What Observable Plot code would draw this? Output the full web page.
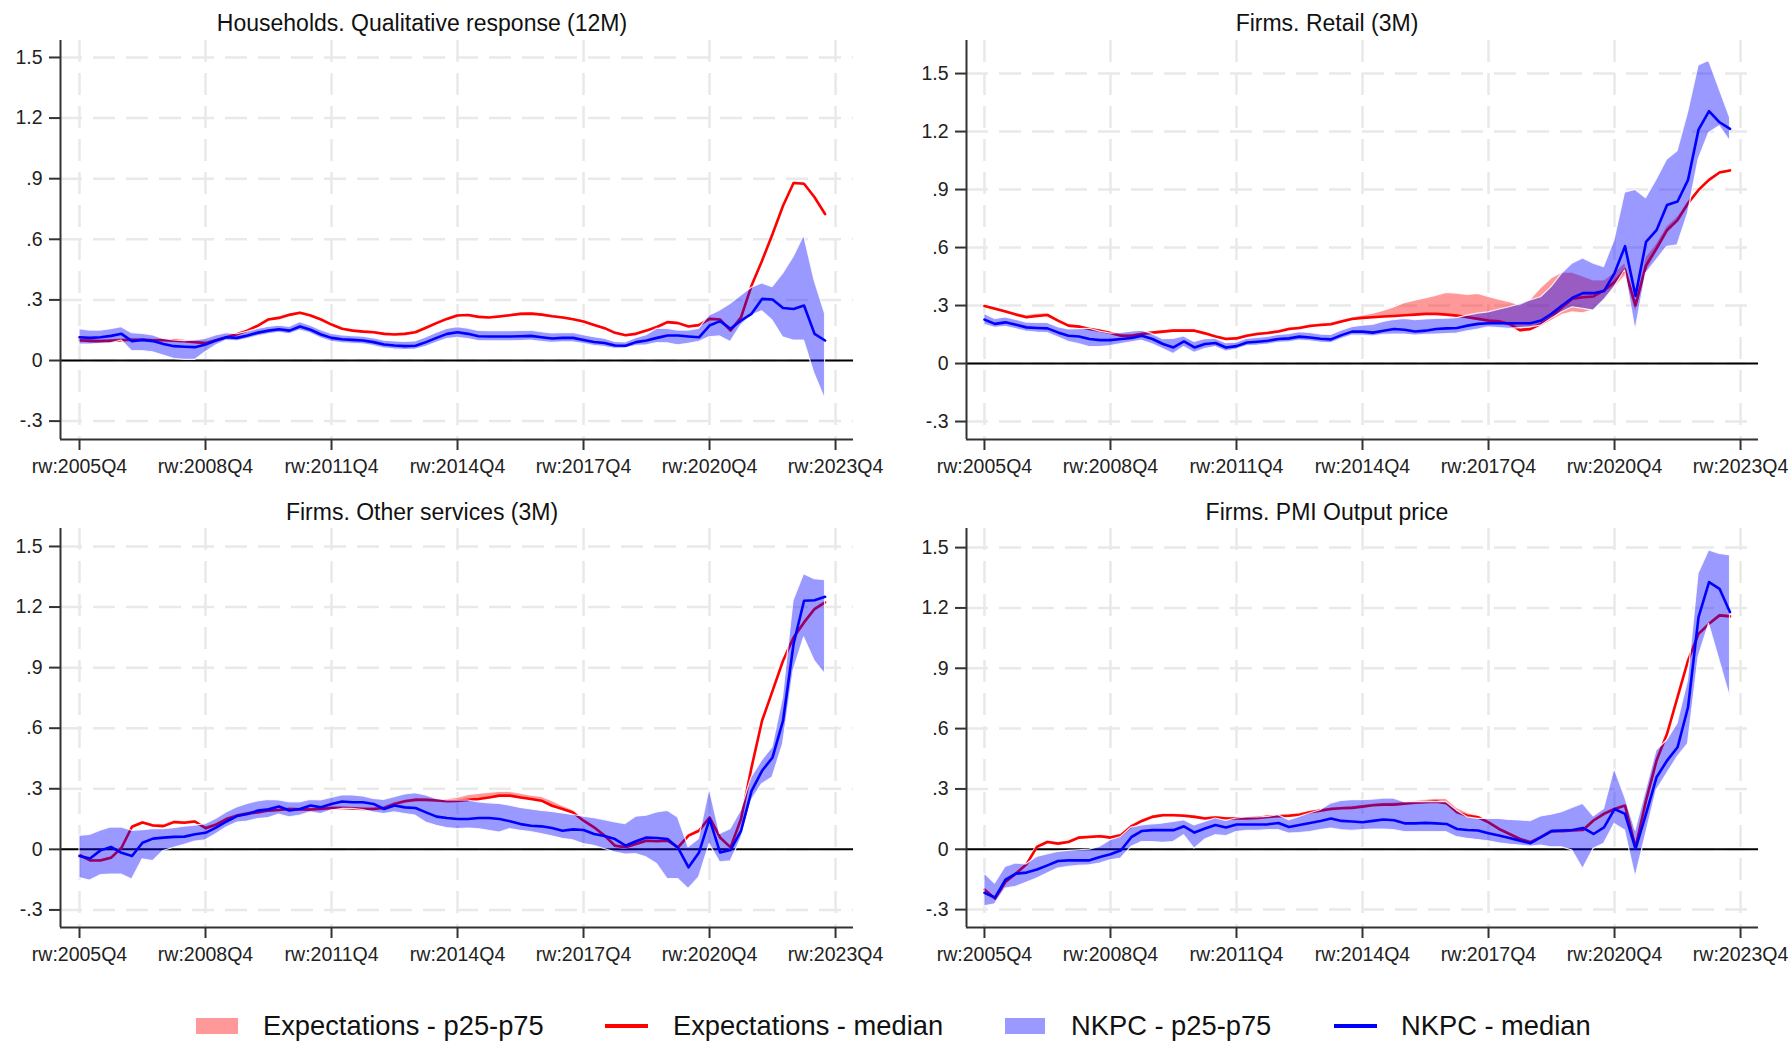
<!DOCTYPE html>
<html><head><meta charset="utf-8">
<script src="https://cdn.jsdelivr.net/npm/d3@7"></script>
<script src="https://cdn.jsdelivr.net/npm/@observablehq/plot@0.6"></script>
<style>
body{margin:0;background:#fff;font-family:"Liberation Sans",Arial,sans-serif;}
#root{position:relative;width:1789px;height:1041px;overflow:hidden;background:#fff;}
.panel{position:absolute;}
.title{position:absolute;font-size:23px;line-height:23px;color:#111;white-space:nowrap;transform:translateX(-50%);}
.leg{position:absolute;font-size:27.3px;line-height:27px;color:#111;white-space:nowrap;}
.sw{position:absolute;}
</style></head><body><div id="root"></div>
<script>
// ---------- tick values and labels ----------
const xTickIdx = [0, 12, 24, 36, 48, 60, 72];
const xTickLabels = ["rw:2005Q4","rw:2008Q4","rw:2011Q4","rw:2014Q4","rw:2017Q4","rw:2020Q4","rw:2023Q4"];
const yTickValues = [-0.3, 0, 0.3, 0.6, 0.9, 1.2, 1.5];
const yTickLabels = ["-.3", "0", ".3", ".6", ".9", "1.2", "1.5"];
const panelTitles = ["Households. Qualitative response (12M)", "Firms. Retail (3M)", "Firms. Other services (3M)", "Firms. PMI Output price"];
const legendLabels = ["Expectations - p25-p75", "Expectations - median", "NKPC - p25-p75", "NKPC - median"];

// ---------- Households (12M) ----------
const hhExpMed = [0.100,0.097,0.095,0.097,0.100,0.103,0.102,0.100,0.100,0.098,0.095,0.090,0.086,0.100,0.115,0.130,0.148,0.173,0.203,0.211,0.226,0.236,0.223,0.203,0.178,0.157,0.148,0.143,0.140,0.132,0.129,0.132,0.140,0.162,0.185,0.206,0.223,0.225,0.216,0.213,0.218,0.224,0.231,0.232,0.227,0.219,0.213,0.204,0.193,0.176,0.160,0.137,0.125,0.132,0.148,0.166,0.190,0.185,0.168,0.175,0.206,0.203,0.148,0.214,0.371,0.494,0.626,0.766,0.879,0.875,0.808,0.725];
const hhExpLo = [0.088,0.085,0.084,0.087,0.090,0.094,0.094,0.092,0.092,0.090,0.087,0.083,0.080,0.093,0.108,0.123,0.141,0.166,0.196,0.204,0.219,0.229,0.216,0.196,0.171,0.150,0.141,0.136,0.133,0.125,0.122,0.125,0.133,0.155,0.178,0.199,0.216,0.218,0.209,0.206,0.211,0.217,0.224,0.225,0.220,0.212,0.206,0.197,0.186,0.169,0.153,0.130,0.118,0.125,0.141,0.159,0.183,0.178,0.161,0.168,0.199,0.196,0.141,0.207,0.364,0.487,0.619,0.759,0.872,0.868,0.801,0.718];
const hhExpHi = [0.110,0.108,0.106,0.107,0.109,0.111,0.110,0.108,0.108,0.106,0.103,0.098,0.094,0.107,0.122,0.137,0.155,0.180,0.210,0.218,0.233,0.243,0.230,0.210,0.185,0.164,0.155,0.150,0.147,0.139,0.136,0.139,0.147,0.169,0.192,0.213,0.230,0.232,0.223,0.220,0.225,0.231,0.238,0.239,0.234,0.226,0.220,0.211,0.200,0.183,0.167,0.144,0.132,0.139,0.155,0.173,0.197,0.192,0.175,0.182,0.213,0.210,0.155,0.221,0.378,0.501,0.633,0.773,0.886,0.882,0.815,0.732];
const hhNkpcMed = [0.115,0.112,0.115,0.122,0.132,0.096,0.102,0.096,0.082,0.071,0.068,0.066,0.079,0.099,0.115,0.112,0.124,0.138,0.148,0.155,0.148,0.168,0.152,0.129,0.112,0.105,0.102,0.099,0.091,0.079,0.074,0.071,0.073,0.091,0.112,0.132,0.140,0.132,0.120,0.119,0.119,0.119,0.120,0.122,0.115,0.109,0.112,0.112,0.102,0.092,0.087,0.074,0.073,0.091,0.099,0.112,0.124,0.124,0.119,0.115,0.173,0.195,0.157,0.198,0.231,0.305,0.302,0.260,0.255,0.272,0.132,0.099];
const hhNkpcLo = [0.079,0.079,0.082,0.085,0.099,0.046,0.046,0.041,0.025,0.008,0.003,0.003,0.041,0.074,0.099,0.095,0.106,0.120,0.130,0.137,0.130,0.148,0.134,0.110,0.093,0.086,0.083,0.080,0.072,0.060,0.055,0.052,0.054,0.068,0.088,0.106,0.112,0.106,0.096,0.095,0.095,0.095,0.096,0.098,0.092,0.087,0.090,0.090,0.082,0.072,0.067,0.058,0.060,0.072,0.075,0.086,0.085,0.075,0.083,0.092,0.115,0.119,0.091,0.173,0.223,0.244,0.198,0.115,0.099,0.099,-0.066,-0.190];
const hhNkpcHi = [0.155,0.148,0.148,0.155,0.165,0.135,0.132,0.124,0.107,0.099,0.096,0.099,0.107,0.124,0.135,0.130,0.142,0.156,0.166,0.173,0.166,0.190,0.172,0.150,0.132,0.124,0.121,0.118,0.110,0.098,0.094,0.092,0.094,0.114,0.136,0.156,0.165,0.158,0.146,0.145,0.145,0.145,0.146,0.148,0.140,0.134,0.136,0.136,0.125,0.115,0.108,0.092,0.090,0.110,0.125,0.157,0.157,0.148,0.148,0.157,0.223,0.247,0.280,0.321,0.359,0.382,0.363,0.429,0.511,0.618,0.396,0.231];

// ---------- Retail (3M) ----------
const rtExpMed = [0.297,0.283,0.269,0.253,0.239,0.246,0.251,0.222,0.196,0.191,0.179,0.170,0.158,0.144,0.144,0.153,0.160,0.165,0.170,0.170,0.170,0.156,0.140,0.127,0.130,0.144,0.153,0.158,0.166,0.179,0.184,0.194,0.199,0.203,0.217,0.230,0.236,0.239,0.243,0.246,0.250,0.253,0.257,0.257,0.253,0.248,0.239,0.231,0.222,0.218,0.205,0.173,0.179,0.205,0.239,0.291,0.335,0.343,0.347,0.378,0.421,0.486,0.300,0.508,0.595,0.690,0.742,0.829,0.898,0.950,0.988,0.999];
const rtExpLo = [0.289,0.275,0.261,0.245,0.231,0.236,0.241,0.214,0.188,0.183,0.171,0.162,0.150,0.136,0.136,0.145,0.152,0.157,0.162,0.162,0.162,0.148,0.132,0.119,0.122,0.136,0.145,0.150,0.158,0.171,0.176,0.186,0.191,0.195,0.209,0.222,0.228,0.231,0.235,0.238,0.242,0.245,0.249,0.249,0.245,0.240,0.231,0.223,0.214,0.205,0.190,0.160,0.165,0.190,0.220,0.250,0.265,0.260,0.275,0.330,0.390,0.450,0.260,0.470,0.570,0.670,0.725,0.815,0.890,0.943,0.981,0.992];
const rtExpHi = [0.305,0.291,0.277,0.261,0.250,0.258,0.260,0.230,0.204,0.199,0.187,0.178,0.166,0.152,0.152,0.161,0.168,0.173,0.178,0.178,0.178,0.164,0.148,0.135,0.138,0.152,0.161,0.166,0.174,0.187,0.192,0.202,0.207,0.212,0.226,0.238,0.248,0.258,0.272,0.290,0.312,0.325,0.337,0.350,0.365,0.362,0.355,0.360,0.345,0.330,0.318,0.300,0.330,0.390,0.440,0.470,0.470,0.450,0.430,0.430,0.470,0.520,0.330,0.550,0.620,0.710,0.760,0.840,0.905,0.957,0.995,1.005];
const rtNkpcMed = [0.227,0.205,0.213,0.201,0.187,0.184,0.182,0.161,0.144,0.140,0.127,0.121,0.121,0.127,0.132,0.144,0.127,0.101,0.083,0.114,0.083,0.101,0.106,0.083,0.090,0.109,0.113,0.118,0.127,0.130,0.139,0.135,0.128,0.125,0.147,0.165,0.165,0.160,0.170,0.179,0.175,0.166,0.170,0.179,0.182,0.184,0.196,0.205,0.208,0.208,0.208,0.208,0.208,0.222,0.257,0.300,0.340,0.364,0.364,0.375,0.468,0.607,0.350,0.629,0.690,0.820,0.838,0.950,1.210,1.306,1.248,1.214];
const rtNkpcLo = [0.200,0.185,0.190,0.178,0.165,0.160,0.158,0.136,0.112,0.100,0.085,0.085,0.090,0.100,0.110,0.118,0.100,0.075,0.049,0.085,0.055,0.075,0.085,0.062,0.072,0.090,0.093,0.098,0.107,0.110,0.118,0.115,0.108,0.105,0.126,0.144,0.144,0.140,0.148,0.150,0.150,0.145,0.148,0.150,0.152,0.155,0.166,0.175,0.187,0.183,0.179,0.183,0.187,0.196,0.231,0.265,0.291,0.283,0.274,0.326,0.395,0.482,0.170,0.465,0.534,0.603,0.612,0.777,1.054,1.193,1.228,1.150];
const rtNkpcHi = [0.257,0.230,0.238,0.226,0.212,0.210,0.210,0.188,0.176,0.178,0.180,0.165,0.155,0.158,0.165,0.170,0.152,0.126,0.127,0.140,0.112,0.126,0.128,0.105,0.108,0.128,0.133,0.138,0.148,0.152,0.162,0.158,0.150,0.148,0.170,0.188,0.196,0.200,0.215,0.225,0.231,0.225,0.228,0.231,0.232,0.235,0.248,0.258,0.265,0.278,0.291,0.306,0.326,0.343,0.395,0.465,0.517,0.543,0.517,0.499,0.638,0.884,0.898,0.855,0.950,1.054,1.098,1.297,1.540,1.566,1.418,1.271];

// ---------- Other services (3M) ----------
const osExpMed = [-0.028,-0.055,-0.055,-0.042,0.008,0.112,0.133,0.118,0.115,0.135,0.132,0.138,0.105,0.122,0.150,0.167,0.178,0.183,0.192,0.195,0.200,0.198,0.197,0.200,0.205,0.205,0.203,0.200,0.200,0.205,0.225,0.238,0.245,0.245,0.242,0.238,0.240,0.245,0.249,0.257,0.266,0.266,0.257,0.249,0.241,0.216,0.200,0.183,0.142,0.109,0.068,0.018,0.010,0.026,0.043,0.040,0.043,0.010,0.068,0.092,0.158,0.059,0.010,0.150,0.406,0.637,0.785,0.934,1.049,1.124,1.190,1.223];
const osExpLo = [-0.036,-0.063,-0.063,-0.050,0.000,0.104,0.125,0.110,0.107,0.127,0.124,0.130,0.097,0.114,0.142,0.159,0.170,0.175,0.184,0.187,0.192,0.190,0.189,0.192,0.197,0.197,0.195,0.192,0.192,0.197,0.217,0.230,0.237,0.237,0.234,0.230,0.232,0.237,0.241,0.249,0.258,0.258,0.249,0.241,0.233,0.208,0.192,0.175,0.134,0.101,0.060,0.010,0.002,0.018,0.035,0.032,0.035,0.002,0.060,0.084,0.150,0.051,0.002,0.142,0.398,0.629,0.777,0.926,1.041,1.116,1.182,1.215];
const osExpHi = [-0.020,-0.047,-0.047,-0.034,0.016,0.120,0.141,0.126,0.123,0.143,0.140,0.146,0.113,0.130,0.158,0.175,0.186,0.191,0.200,0.203,0.208,0.206,0.205,0.208,0.213,0.213,0.211,0.208,0.208,0.213,0.233,0.246,0.253,0.253,0.250,0.248,0.255,0.268,0.275,0.280,0.285,0.285,0.276,0.266,0.260,0.240,0.215,0.195,0.150,0.117,0.076,0.026,0.018,0.034,0.051,0.048,0.051,0.018,0.076,0.100,0.166,0.067,0.018,0.158,0.414,0.645,0.793,0.942,1.057,1.132,1.198,1.231];
const osNkpcMed = [-0.033,-0.045,-0.005,0.012,-0.017,-0.033,0.033,0.053,0.058,0.062,0.063,0.075,0.082,0.108,0.138,0.165,0.175,0.192,0.198,0.212,0.192,0.200,0.217,0.208,0.225,0.237,0.233,0.233,0.225,0.200,0.217,0.208,0.205,0.183,0.162,0.155,0.150,0.150,0.155,0.155,0.150,0.139,0.125,0.117,0.114,0.106,0.092,0.099,0.096,0.076,0.066,0.051,0.018,0.040,0.059,0.056,0.051,0.007,-0.089,-0.015,0.150,-0.015,-0.003,0.092,0.290,0.389,0.455,0.637,1.017,1.231,1.234,1.251];
const osNkpcLo = [-0.142,-0.155,-0.128,-0.125,-0.125,-0.150,-0.050,-0.058,-0.008,0.008,0.022,0.038,0.045,0.075,0.108,0.132,0.138,0.150,0.155,0.172,0.158,0.167,0.183,0.175,0.192,0.200,0.200,0.195,0.183,0.175,0.183,0.175,0.167,0.133,0.117,0.105,0.100,0.103,0.100,0.092,0.083,0.100,0.092,0.085,0.075,0.065,0.052,0.045,0.026,0.018,0.002,-0.015,-0.026,-0.023,-0.040,-0.073,-0.147,-0.147,-0.196,-0.139,0.026,-0.064,-0.060,0.051,0.241,0.323,0.356,0.521,0.884,1.049,0.934,0.868];
const osNkpcHi = [0.067,0.072,0.092,0.108,0.108,0.092,0.095,0.100,0.100,0.105,0.112,0.117,0.125,0.150,0.183,0.208,0.225,0.238,0.245,0.242,0.233,0.233,0.245,0.242,0.255,0.267,0.267,0.262,0.250,0.245,0.258,0.272,0.278,0.267,0.250,0.242,0.242,0.242,0.233,0.228,0.225,0.216,0.205,0.198,0.191,0.185,0.178,0.170,0.162,0.155,0.145,0.134,0.125,0.162,0.167,0.183,0.191,0.158,0.010,0.051,0.300,0.076,0.100,0.191,0.356,0.439,0.505,0.752,1.231,1.363,1.338,1.333];

// ---------- PMI Output price ----------
const pmExpMed = [-0.200,-0.245,-0.163,-0.121,-0.075,0.012,0.036,0.028,0.036,0.058,0.061,0.065,0.058,0.070,0.114,0.141,0.161,0.169,0.169,0.167,0.161,0.153,0.158,0.153,0.153,0.153,0.156,0.161,0.164,0.167,0.172,0.184,0.192,0.200,0.204,0.206,0.212,0.219,0.222,0.222,0.226,0.231,0.234,0.237,0.229,0.184,0.167,0.159,0.134,0.101,0.076,0.051,0.035,0.060,0.090,0.090,0.093,0.096,0.143,0.176,0.200,0.217,0.010,0.242,0.441,0.574,0.756,0.939,1.071,1.121,1.163,1.158];
const pmExpLo = [-0.208,-0.253,-0.171,-0.129,-0.083,0.004,0.028,0.020,0.028,0.050,0.053,0.057,0.050,0.062,0.106,0.133,0.153,0.161,0.161,0.159,0.153,0.145,0.150,0.145,0.145,0.145,0.148,0.153,0.156,0.159,0.164,0.176,0.184,0.192,0.196,0.198,0.204,0.211,0.214,0.214,0.218,0.223,0.226,0.229,0.221,0.176,0.159,0.151,0.126,0.093,0.068,0.043,0.027,0.052,0.082,0.082,0.085,0.088,0.135,0.168,0.192,0.209,0.002,0.234,0.433,0.566,0.748,0.931,1.063,1.113,1.155,1.150];
const pmExpHi = [-0.192,-0.237,-0.155,-0.113,-0.067,0.020,0.044,0.036,0.044,0.066,0.069,0.073,0.066,0.078,0.122,0.149,0.169,0.177,0.177,0.175,0.169,0.161,0.166,0.161,0.161,0.161,0.164,0.169,0.172,0.175,0.180,0.192,0.200,0.208,0.212,0.214,0.220,0.227,0.230,0.232,0.236,0.241,0.245,0.252,0.250,0.205,0.180,0.167,0.142,0.109,0.084,0.059,0.043,0.068,0.098,0.098,0.101,0.104,0.151,0.184,0.208,0.225,0.018,0.250,0.449,0.582,0.764,0.947,1.079,1.129,1.171,1.166];
const pmNkpcMed = [-0.217,-0.240,-0.151,-0.121,-0.116,-0.101,-0.080,-0.058,-0.055,-0.055,-0.055,-0.038,-0.025,-0.005,0.061,0.091,0.095,0.095,0.095,0.114,0.083,0.103,0.121,0.108,0.123,0.123,0.123,0.124,0.131,0.111,0.121,0.131,0.141,0.153,0.141,0.138,0.134,0.141,0.148,0.144,0.129,0.129,0.131,0.129,0.126,0.101,0.096,0.093,0.080,0.068,0.056,0.043,0.030,0.060,0.090,0.093,0.096,0.106,0.076,0.109,0.200,0.176,0.002,0.176,0.358,0.441,0.507,0.706,1.154,1.328,1.295,1.179];
const pmNkpcLo = [-0.284,-0.274,-0.196,-0.187,-0.167,-0.146,-0.121,-0.096,-0.088,-0.083,-0.080,-0.071,-0.055,-0.046,0.012,0.036,0.036,0.032,0.036,0.070,0.003,0.048,0.070,0.065,0.086,0.091,0.091,0.095,0.095,0.078,0.081,0.086,0.095,0.103,0.095,0.091,0.095,0.098,0.098,0.095,0.085,0.085,0.085,0.085,0.085,0.060,0.052,0.046,0.040,0.030,0.023,0.018,0.013,0.018,0.010,0.010,-0.007,-0.098,0.002,0.027,0.126,0.093,-0.139,0.076,0.292,0.375,0.458,0.524,0.955,1.121,0.939,0.756];
const pmNkpcHi = [-0.121,-0.171,-0.088,-0.071,-0.075,-0.038,-0.025,-0.013,-0.008,-0.005,-0.002,0.012,0.045,0.061,0.108,0.119,0.124,0.128,0.136,0.144,0.119,0.136,0.153,0.141,0.153,0.158,0.158,0.161,0.169,0.144,0.161,0.178,0.194,0.227,0.240,0.244,0.244,0.247,0.252,0.252,0.234,0.234,0.234,0.234,0.234,0.192,0.159,0.151,0.151,0.151,0.146,0.143,0.140,0.163,0.172,0.184,0.206,0.226,0.163,0.200,0.400,0.259,0.093,0.292,0.491,0.541,0.624,0.839,1.370,1.486,1.469,1.461];

// ---------- build tables ----------
function table(em, el, eh, nm, nl, nh) {
  return em.map((v, i) => ({i, em: v, el: el[i], eh: eh[i], nm: nm[i], nl: nl[i], nh: nh[i]}));
}
const tables = [
  table(hhExpMed, hhExpLo, hhExpHi, hhNkpcMed, hhNkpcLo, hhNkpcHi),
  table(rtExpMed, rtExpLo, rtExpHi, rtNkpcMed, rtNkpcLo, rtNkpcHi),
  table(osExpMed, osExpLo, osExpHi, osNkpcMed, osNkpcLo, osNkpcHi),
  table(pmExpMed, pmExpLo, pmExpHi, pmNkpcMed, pmNkpcLo, pmNkpcHi)
];

// ---------- layout ----------
const layout = [
  {left: 0,   top: 0,   width: 880, height: 490, mL: 60, mR: 27, mT: 40, mB: 51, xd: [-1.81, 73.71], yd: [-0.391, 1.584], tx: 422,  tt: 12},
  {left: 890, top: 0,   width: 899, height: 490, mL: 76, mR: 31, mT: 40, mB: 51, xd: [-1.71, 73.71], yd: [-0.393, 1.671], tx: 1327, tt: 12},
  {left: 0,   top: 490, width: 880, height: 490, mL: 60, mR: 27, mT: 38, mB: 53, xd: [-1.81, 73.71], yd: [-0.387, 1.589], tx: 422,  tt: 501},
  {left: 890, top: 490, width: 899, height: 490, mL: 76, mR: 31, mT: 38, mB: 53, xd: [-1.71, 73.71], yd: [-0.389, 1.595], tx: 1327, tt: 501}
];

const RED = "#ff0000", BLUE = "#0000ff";
const GRID = "#e9e9e9";
const root = document.getElementById("root");

layout.forEach((L, k) => {
  const rows = tables[k];
  const chart = Plot.plot({
    width: L.width, height: L.height,
    marginLeft: L.mL, marginRight: L.mR, marginTop: L.mT, marginBottom: L.mB,
    style: {fontFamily: '"Liberation Sans", Arial, sans-serif', fontSize: "19.5px", color: "#222", background: "white", overflow: "visible"},
    x: {type: "linear", domain: L.xd},
    y: {type: "linear", domain: L.yd},
    marks: [
      Plot.gridY(yTickValues, {stroke: GRID, strokeOpacity: 1, strokeWidth: 2.5, strokeDasharray: "22,11"}),
      Plot.gridX(xTickIdx, {stroke: GRID, strokeOpacity: 1, strokeWidth: 2.5, strokeDasharray: "22,11"}),
      Plot.ruleY([0], {stroke: "#000", strokeWidth: 2}),
      Plot.areaY(rows, {x: "i", y1: "el", y2: "eh", fill: RED, fillOpacity: 0.4, stroke: "white", strokeOpacity: 0.85, strokeWidth: 1.2}),
      Plot.line(rows, {x: "i", y: "em", stroke: RED, strokeWidth: 2.6}),
      Plot.areaY(rows, {x: "i", y1: "nl", y2: "nh", fill: BLUE, fillOpacity: 0.4, stroke: "white", strokeOpacity: 0.85, strokeWidth: 1.2}),
      Plot.line(rows, {x: "i", y: "nm", stroke: BLUE, strokeWidth: 2.6}),
      Plot.ruleX([L.xd[0]], {stroke: "#333", strokeWidth: 2}),
      Plot.ruleY([L.yd[0]], {stroke: "#333", strokeWidth: 2}),
      Plot.axisY(yTickValues, {tickFormat: d => yTickLabels[yTickValues.indexOf(d)], tickSize: 11, tickPadding: 7, fontSize: 19.5, stroke: "#333", strokeWidth: 2, label: null}),
      Plot.axisX(xTickIdx, {tickFormat: d => xTickLabels[xTickIdx.indexOf(d)], tickSize: 11, tickPadding: 9, fontSize: 19.5, stroke: "#333", strokeWidth: 2, label: null})
    ]
  });
  const wrap = document.createElement("div");
  wrap.className = "panel";
  wrap.style.left = L.left + "px";
  wrap.style.top = L.top + "px";
  wrap.appendChild(chart);
  root.appendChild(wrap);

  const t = document.createElement("div");
  t.className = "title";
  t.textContent = panelTitles[k];
  t.style.left = L.tx + "px";
  t.style.top = L.tt + "px";
  root.appendChild(t);
});

// ---------- legend ----------
const legendItems = [
  {kind: "box",  color: "rgba(255,0,0,0.4)", x0: 196,  w: 42, tx: 263},
  {kind: "line", color: RED,                 x0: 605,  w: 43, tx: 673},
  {kind: "box",  color: "rgba(0,0,255,0.4)", x0: 1005, w: 40, tx: 1071},
  {kind: "line", color: BLUE,                x0: 1334, w: 43, tx: 1401}
];
legendItems.forEach((it, k) => {
  const s = document.createElement("div");
  s.className = "sw";
  s.style.left = it.x0 + "px";
  s.style.width = it.w + "px";
  if (it.kind === "box") { s.style.top = "1018px"; s.style.height = "16px"; }
  else { s.style.top = "1024px"; s.style.height = "4px"; }
  s.style.background = it.color;
  root.appendChild(s);
  const t = document.createElement("div");
  t.className = "leg";
  t.textContent = legendLabels[k];
  t.style.left = it.tx + "px";
  t.style.top = "1012px";
  root.appendChild(t);
});
</script></body></html>
